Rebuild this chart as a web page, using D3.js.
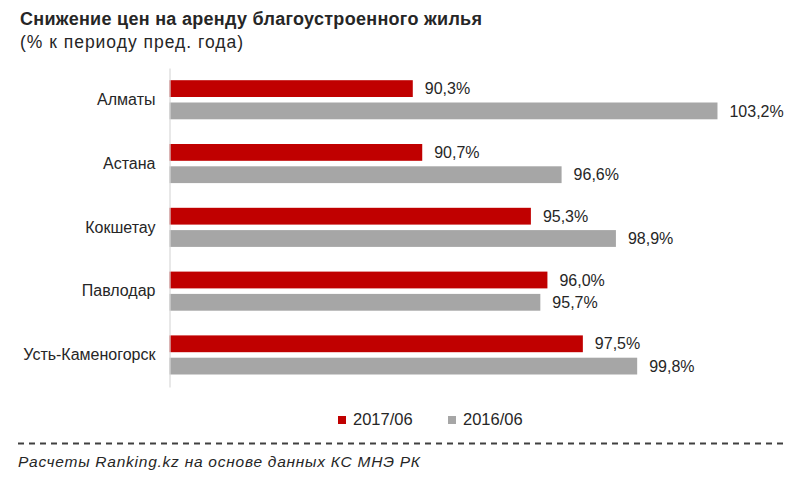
<!DOCTYPE html>
<html>
<head>
<meta charset="utf-8">
<script src="https://cdn.jsdelivr.net/npm/d3@7"></script>
<style>
  html, body { margin: 0; padding: 0; background: #fff; }
  svg { display: block; font-family: "Liberation Sans", Arial, sans-serif; }
</style>
</head>
<body>
<svg id="chart" width="800" height="486"></svg>
<script>
const categories = ["Алматы", "Астана", "Кокшетау", "Павлодар", "Усть-Каменогорск"];
const series2017 = [90.3, 90.7, 95.3, 96.0, 97.5];
const series2016 = [103.2, 96.6, 98.9, 95.7, 99.8];
const seriesNames = ["2017/06", "2016/06"];
const valueLabels2017 = ["90,3%", "90,7%", "95,3%", "96,0%", "97,5%"];
const valueLabels2016 = ["103,2%", "96,6%", "98,9%", "95,7%", "99,8%"];
const titleText = "Снижение цен на аренду благоустроенного жилья";
const subtitleText = "(% к периоду пред. года)";
const sourceText = "Расчеты Ranking.kz на основе данных  КС МНЭ РК";

const colors = ["#C00000", "#A6A6A6"];
const textColor = "#262626";

const svg = d3.select("#chart");

const x = d3.scaleLinear().domain([80, 105]).range([169.5, 760]);
const y = d3.scaleBand().domain(categories).range([68, 387]).padding(0);

const barH = 16.8;
const off1 = 12.2;
const off2 = 34.5;

// title
svg.append("text").attr("x", 20).attr("y", 25)
  .attr("font-size", 18).attr("font-weight", "bold").attr("fill", textColor)
  .attr("textLength", 462).attr("lengthAdjust", "spacing")
  .text(titleText);
svg.append("text").attr("x", 20).attr("y", 48)
  .attr("font-size", 17.5).attr("fill", textColor)
  .attr("textLength", 223).attr("lengthAdjust", "spacing")
  .text(subtitleText);

const data = categories.map((c, i) => ({c, v1: series2017[i], v2: series2016[i], l1: valueLabels2017[i], l2: valueLabels2016[i]}));

const g = svg.append("g");

g.selectAll("rect.s1").data(data).join("rect").attr("class", "s1")
  .attr("x", x(80)).attr("y", d => y(d.c) + off1)
  .attr("width", d => x(d.v1) - x(80)).attr("height", barH)
  .attr("fill", colors[0]);
g.selectAll("rect.s2").data(data).join("rect").attr("class", "s2")
  .attr("x", x(80)).attr("y", d => y(d.c) + off2)
  .attr("width", d => x(d.v2) - x(80)).attr("height", barH)
  .attr("fill", colors[1]);

g.selectAll("text.l1").data(data).join("text").attr("class", "l1")
  .attr("x", d => x(d.v1) + 12).attr("y", d => y(d.c) + off1 + barH / 2)
  .attr("dy", "0.35em").attr("font-size", 16).attr("fill", textColor)
  .text(d => d.l1);
g.selectAll("text.l2").data(data).join("text").attr("class", "l2")
  .attr("x", d => x(d.v2) + 12).attr("y", d => y(d.c) + off2 + barH / 2)
  .attr("dy", "0.35em").attr("font-size", 16).attr("fill", textColor)
  .text(d => d.l2);

// axis
const yAxis = d3.axisLeft(y).tickSize(0).tickPadding(14);
const ax = svg.append("g").attr("transform", `translate(${x(80)},0)`).call(yAxis);
ax.select(".domain").attr("stroke", "#D9D9D9").attr("stroke-width", 1.2);
ax.selectAll(".tick text").attr("font-size", 16).attr("fill", textColor)
  .attr("font-family", "'Liberation Sans', Arial, sans-serif");

// legend
const leg = svg.append("g");
const legX = [338, 448];
seriesNames.forEach((n, i) => {
  leg.append("rect").attr("x", legX[i]).attr("y", 416).attr("width", 8).attr("height", 8).attr("fill", colors[i]);
  leg.append("text").attr("x", legX[i] + 15).attr("y", 425).attr("font-size", 16.5).attr("fill", textColor).text(n);
});

// dashed separator
svg.append("line").attr("x1", 18).attr("x2", 783).attr("y1", 443.5).attr("y2", 443.5)
  .attr("stroke", "#404040").attr("stroke-width", 2).attr("stroke-dasharray", "6,5");

svg.append("text").attr("x", 18).attr("y", 467)
  .attr("font-size", 15.5).attr("font-style", "italic").attr("fill", textColor)
  .attr("textLength", 402).attr("lengthAdjust", "spacing")
  .text(sourceText);
</script>
</body>
</html>
